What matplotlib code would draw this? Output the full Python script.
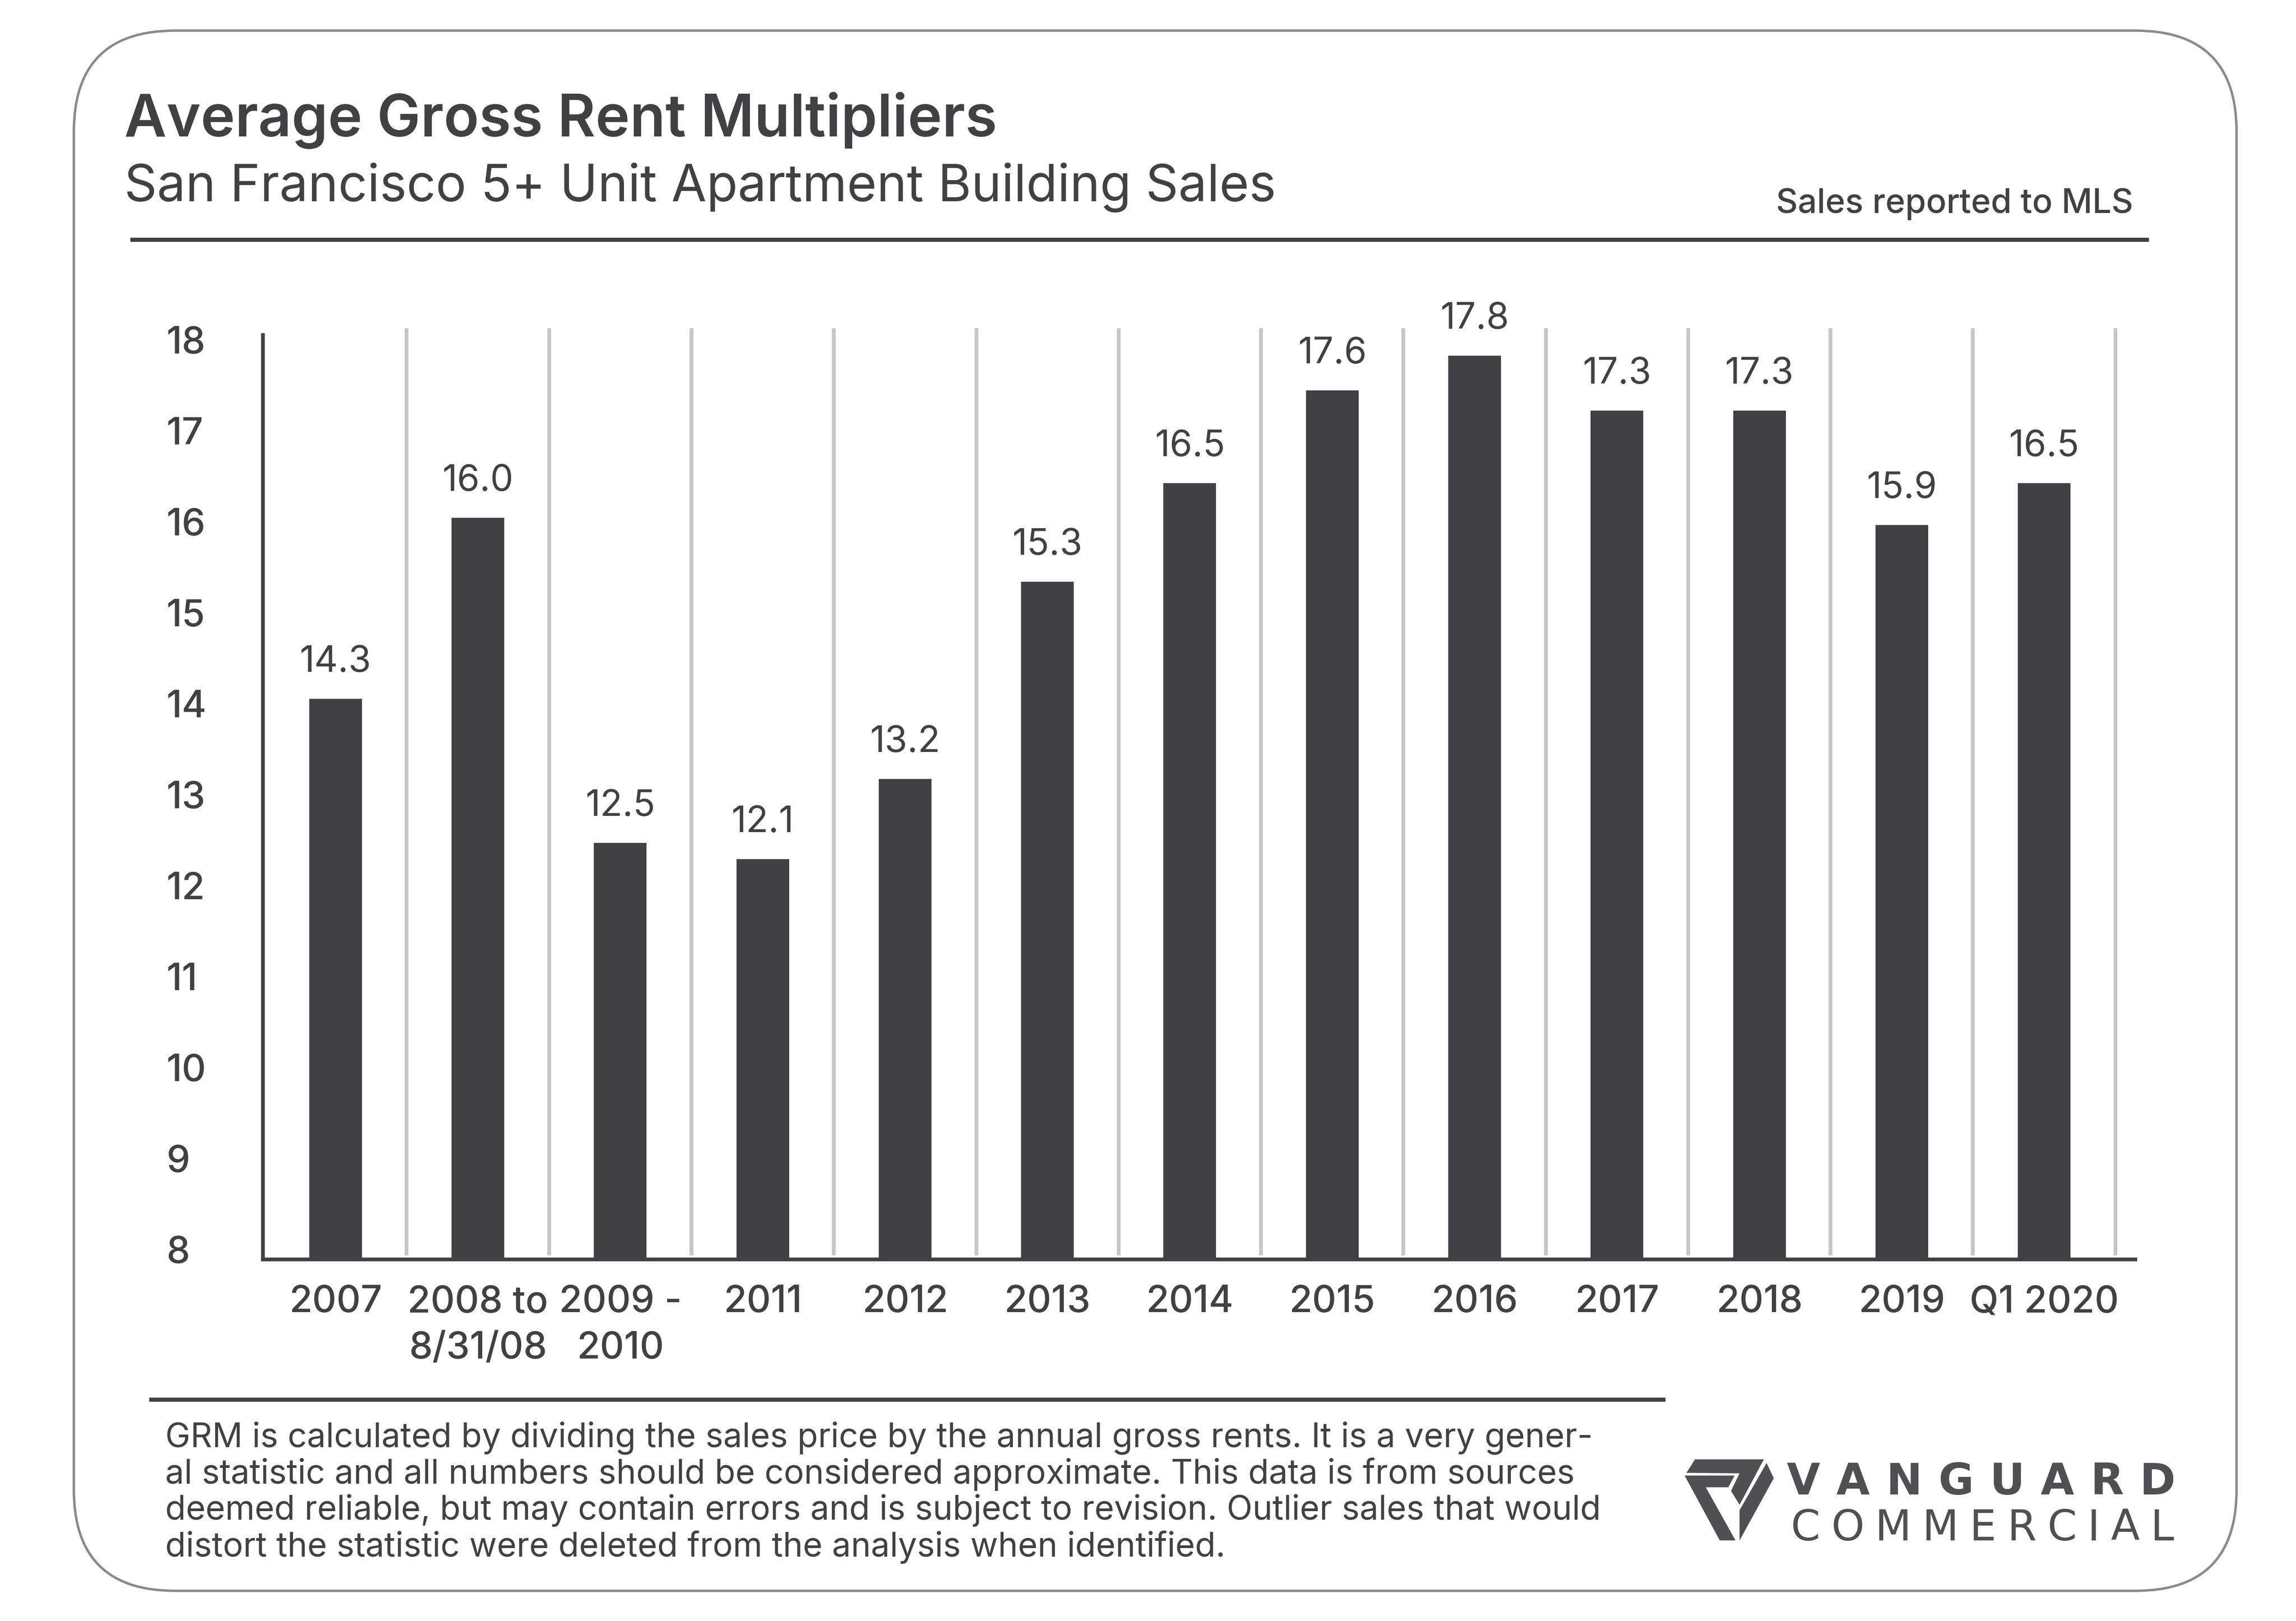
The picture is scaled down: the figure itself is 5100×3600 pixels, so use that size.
import matplotlib
matplotlib.use("Agg")
import matplotlib.pyplot as plt
from matplotlib.patches import FancyBboxPatch, Polygon
import numpy as np

# ---------------- data ----------------
categories = ["2007", "2008 to\n8/31/08", "2009 -\n2010", "2011", "2012", "2013",
              "2014", "2015", "2016", "2017", "2018", "2019", "Q1 2020"]
grm_labels = [14.3, 16.0, 12.5, 12.1, 13.2, 15.3, 16.5, 17.6, 17.8, 17.3, 17.3, 15.9, 16.5]
bar_heights = [14.05, 16.04, 12.47, 12.29, 13.17, 15.34, 16.42, 17.44, 17.82, 17.22, 17.22, 15.96, 16.42]
yticks = [8, 9, 10, 11, 12, 13, 14, 15, 16, 17, 18]

title = "Average Gross Rent Multipliers"
subtitle = "San Francisco 5+ Unit Apartment Building Sales"
source_note = "Sales reported to MLS"
footnote_lines = [
    "GRM is calculated by dividing the sales price by the annual gross rents. It is a very gener-",
    "al statistic and all numbers should be considered approximate. This data is from sources",
    "deemed reliable, but may contain errors and is subject to revision. Outlier sales that would",
    "distort the statistic were deleted from the analysis when identified.",
]
logo_top = "VANGUARD"
logo_bottom = "COMMERCIAL"

# ---------------- style ----------------
DARK = "#414042"
GRID = "#c6c6c8"
LOGO = "#505052"
FONT = "Inter"
W, H = 5100, 3600

plt.rcParams["font.family"] = [FONT, "DejaVu Sans"]

fig = plt.figure(figsize=(17, 12), dpi=300)
fig.patch.set_facecolor("white")

# background canvas in pixel coordinates
bg = fig.add_axes([0, 0, 1, 1])
bg.set_xlim(0, W)
bg.set_ylim(H, 0)
bg.axis("off")

box = FancyBboxPatch((164, 68), 4968 - 164, 3533 - 68,
                     boxstyle="round,pad=0,rounding_size=225",
                     fc="white", ec="#8a8a8a", lw=1.3)
bg.add_patch(box)

bg.text(276, 303, title, fontsize=31, fontweight="semibold", color=DARK,
        ha="left", va="baseline")
bg.text(276, 447, subtitle, fontsize=27.2, fontweight="normal", color=DARK,
        ha="left", va="baseline")
bg.text(4738, 473, source_note, fontsize=18, fontweight="medium", color=DARK,
        ha="right", va="baseline")
bg.plot([289, 4773], [532, 532], color=DARK, lw=2.2, solid_capstyle="butt")

bg.plot([331, 3699], [3108, 3108], color=DARK, lw=2.2, solid_capstyle="butt")
for line, yb in zip(footnote_lines, [3213, 3295, 3375, 3457]):
    bg.text(367, yb, line, fontsize=18, color=DARK, ha="left", va="baseline")

# logo icon
icon_parts = [
    [(3765, 3241), (3918, 3241), (3864, 3342), (3845, 3311), (3864, 3272), (3746, 3271)],
    [(3742, 3277), (3853, 3277), (3839, 3303), (3789, 3303), (3855, 3421), (3820, 3421)],
    [(3924, 3249), (3940, 3283), (3864, 3421), (3864, 3354)],
]
for pts in icon_parts:
    bg.add_patch(Polygon(pts, closed=True, fc=LOGO, ec="none"))

renderer = fig.canvas.get_renderer()


def spaced(word, x0, x1, y, **kw):
    ts = [bg.text(0, y, ch, ha="left", va="baseline", **kw) for ch in word]
    ws = [t.get_window_extent(renderer).width for t in ts]
    gap = (x1 - x0 - sum(ws)) / (len(word) - 1)
    x = x0
    for t, w in zip(ts, ws):
        t.set_x(x)
        x += w + gap


spaced(logo_top, 3969, 4832, 3319, fontsize=23, fontweight="bold",
       color=LOGO, family=["DejaVu Sans"])
spaced(logo_bottom, 3978, 4829, 3421, fontsize=22.5, fontweight="normal",
       color=LOGO, family=["DejaVu Sans"])

# ---------------- chart ----------------
ax = fig.add_axes([584 / W, 1 - 2797 / H, (4743 - 584) / W, (2797 - 744) / H])
ax.patch.set_alpha(0)
x = np.arange(len(categories))
ax.bar(x, bar_heights, width=0.37, color=DARK, zorder=3)
ax.set_xlim(-0.51, 12.64)
ax.set_ylim(7.89, 18.05)

ax.vlines(x + 0.5, 0.0044, 1.0073, transform=ax.get_xaxis_transform(),
          colors=GRID, lw=2, clip_on=False, zorder=1)

for s in ["top", "right"]:
    ax.spines[s].set_visible(False)
for s in ["left", "bottom"]:
    ax.spines[s].set_color(DARK)
    ax.spines[s].set_linewidth(2)
    ax.spines[s].set_zorder(4)

ax.set_yticks(yticks)
ax.set_yticklabels([str(t) for t in yticks], fontsize=20, fontweight="medium", color=DARK)
for lab in ax.get_yticklabels():
    lab.set_ha("left")
ax.tick_params(axis="y", length=0, pad=51.6)

ax.set_xticks(x)
ax.set_xticklabels(categories, fontsize=20, fontweight="medium", color=DARK,
                   linespacing=1.4)
ax.tick_params(axis="x", length=0, pad=13.5)

for i, (h, v) in enumerate(zip(bar_heights, grm_labels)):
    ax.annotate(f"{v:.1f}", (i, h), xytext=(0, 14.4), textcoords="offset points",
                ha="center", va="baseline", fontsize=19.5, color=DARK,
                annotation_clip=False)

fig.savefig("out.png", dpi=300, facecolor="white")
